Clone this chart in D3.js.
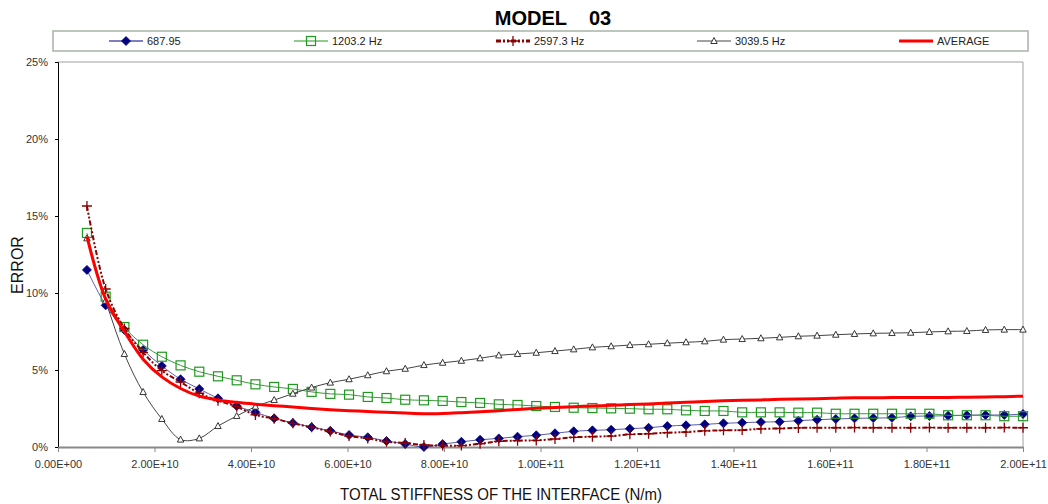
<!DOCTYPE html>
<html>
<head>
<meta charset="utf-8">
<script src="https://cdn.jsdelivr.net/npm/d3@7"></script>
<style>
  html, body { margin: 0; padding: 0; background: #fff; }
  svg { display: block; font-family: "Liberation Sans", Arial, sans-serif; }
</style>
</head>
<body>
<svg id="chart" width="1048" height="504"></svg>
<script>
// Interface stiffness (GN/m) at each computed point
const stiffnessGN = [
  6.00, 9.88, 13.76, 17.64, 21.52, 25.40, 29.28, 33.16, 37.04, 40.92,
  44.80, 48.68, 52.56, 56.44, 60.32, 64.20, 68.08, 71.96, 75.84, 79.72,
  83.60, 87.48, 91.36, 95.24, 99.12, 103.00, 106.88, 110.76, 114.64, 118.52,
  122.40, 126.28, 130.16, 134.04, 137.92, 141.80, 145.68, 149.56, 153.44, 157.32,
  161.20, 165.08, 168.96, 172.84, 176.72, 180.60, 184.48, 188.36, 192.24, 196.12,
  200.00
];

// Error (%) per mode frequency
const err687 = [
  11.5, 9.2, 7.6, 6.3, 5.26, 4.4, 3.77, 3.16, 2.66, 2.25,
  1.86, 1.56, 1.29, 1.05, 0.78, 0.63, 0.39, 0.19, 0.0, 0.19,
  0.34, 0.47, 0.56, 0.67, 0.76, 0.89, 1.02, 1.08, 1.12, 1.19,
  1.25, 1.36, 1.41, 1.47, 1.54, 1.58, 1.62, 1.64, 1.71, 1.77,
  1.82, 1.86, 1.88, 1.9, 1.99, 2.01, 2.03, 2.06, 2.08, 2.08,
  2.14
];
const err1203 = [
  13.9, 9.76, 7.79, 6.64, 5.86, 5.3, 4.89, 4.59, 4.33, 4.07,
  3.9, 3.77, 3.58, 3.45, 3.4, 3.25, 3.18, 3.07, 3.03, 2.99,
  2.92, 2.86, 2.77, 2.73, 2.66, 2.6, 2.55, 2.53, 2.51, 2.49,
  2.45, 2.45, 2.38, 2.34, 2.34, 2.25, 2.25, 2.25, 2.23, 2.23,
  2.16, 2.16, 2.16, 2.16, 2.16, 2.16, 2.06, 2.06, 2.06, 2.0,
  2.0
];
const err2597 = [
  15.65, 10.26, 7.7, 6.15, 4.96, 4.22, 3.49, 3.01, 2.62, 2.08,
  1.84, 1.54, 1.28, 1.0, 0.71, 0.56, 0.34, 0.26, 0.13, 0.09,
  0.09, 0.21, 0.37, 0.41, 0.43, 0.52, 0.63, 0.67, 0.71, 0.82,
  0.86, 0.93, 0.97, 1.05, 1.08, 1.1, 1.18, 1.2, 1.24, 1.25,
  1.25, 1.26, 1.25, 1.25, 1.25, 1.26, 1.25, 1.25, 1.25, 1.26,
  1.25
];
const err3039 = [
  13.55, 9.5, 6.04, 3.57, 1.82, 0.48, 0.56, 1.36, 2.01, 2.62,
  3.05, 3.46, 3.86, 4.18, 4.4, 4.66, 4.92, 5.08, 5.32, 5.47,
  5.6, 5.76, 5.95, 6.04, 6.12, 6.23, 6.34, 6.47, 6.54, 6.62,
  6.67, 6.74, 6.8, 6.86, 6.97, 7.01, 7.06, 7.12, 7.19, 7.23,
  7.29, 7.34, 7.38, 7.4, 7.42, 7.47, 7.51, 7.53, 7.6, 7.62,
  7.62
];
const errAverage = [
  13.66, 9.6, 7.5, 5.7, 4.55, 3.8, 3.3, 3.05, 2.9, 2.78,
  2.68, 2.6, 2.5, 2.42, 2.36, 2.31, 2.25, 2.2, 2.16, 2.18,
  2.23, 2.29, 2.36, 2.44, 2.51, 2.57, 2.62, 2.66, 2.71, 2.76,
  2.8, 2.85, 2.9, 2.96, 3.0, 3.03, 3.06, 3.1, 3.12, 3.14,
  3.17, 3.19, 3.2, 3.21, 3.22, 3.22, 3.22, 3.23, 3.24, 3.27,
  3.3
];

const seriesNames = ["687.95", "1203.2 Hz", "2597.3 Hz", "3039.5 Hz", "AVERAGE"];
const yTicks = [0, 5, 10, 15, 20, 25];
const xTicks = [0, 2e10, 4e10, 6e10, 8e10, 1e11, 1.2e11, 1.4e11, 1.6e11, 1.8e11, 2e11];

const svg = d3.select("#chart");
const plot = { left: 58, right: 1023, top: 62, bottom: 447 };

const x = d3.scaleLinear().domain([0, 2e11]).range([plot.left, plot.right]);
const y = d3.scaleLinear().domain([0, 25]).range([plot.bottom, plot.top]);

// Exponent format like 2.00E+10
function sciFmt(v) {
  const s = v.toExponential(2).toUpperCase();
  const [m, e] = s.split("E");
  const sign = e[0] === "-" ? "-" : "+";
  const digits = e.replace(/[+-]/, "").padStart(2, "0");
  return m + "E" + sign + digits;
}

// Title
svg.append("text")
  .attr("x", 553).attr("y", 25)
  .attr("text-anchor", "middle")
  .attr("font-size", 20).attr("font-weight", "bold")
  .style("white-space", "pre")
  .attr("fill", "#000")
  .text("MODEL    03");

// Plot frame (top & right)
svg.append("path")
  .attr("d", `M${plot.left},${plot.top}H${plot.right}V${plot.bottom}`)
  .attr("fill", "none").attr("stroke", "#a0a0a0").attr("stroke-width", 1);

// Y axis
const yAxis = svg.append("g").attr("transform", `translate(${plot.left},0)`)
  .call(d3.axisLeft(y).tickValues(yTicks).tickSize(3).tickFormat(d => d + "%"));
yAxis.select(".domain").attr("stroke", "#000");
yAxis.selectAll(".tick line").attr("stroke", "#000");
yAxis.selectAll("text").attr("font-size", 11).attr("fill", "#333")
  .attr("font-family", "'Liberation Sans', Arial, sans-serif").attr("x", -10);

// X axis
const xAxis = svg.append("g").attr("transform", `translate(0,${plot.bottom})`)
  .call(d3.axisBottom(x).tickValues(xTicks).tickSize(5).tickSizeOuter(0).tickFormat(sciFmt));
xAxis.select(".domain").attr("stroke", "#888").attr("stroke-width", 2);
xAxis.selectAll(".tick line").attr("stroke", "#888");
xAxis.selectAll("text").attr("font-size", 11).attr("fill", "#333")
  .attr("font-family", "'Liberation Sans', Arial, sans-serif").attr("y", 13);

// Axis titles
svg.append("text")
  .attr("x", 501).attr("y", 500)
  .attr("text-anchor", "middle")
  .attr("font-size", 16).attr("fill", "#111")
  .attr("textLength", 322).attr("lengthAdjust", "spacingAndGlyphs")
  .text("TOTAL STIFFNESS OF THE INTERFACE (N/m)");
svg.append("text")
  .attr("transform", "translate(23,265) rotate(-90)")
  .attr("text-anchor", "middle")
  .attr("font-size", 16).attr("fill", "#111")
  .text("ERROR");

// Marker symbols
const markers = {
  diamond: (g, c) => g.append("path").attr("d", "M0,-4.5L4.5,0L0,4.5L-4.5,0Z")
    .attr("fill", c.marker).attr("stroke", c.marker).attr("stroke-width", 0.8),
  square: (g, c) => g.append("rect").attr("x", -4.5).attr("y", -4.5).attr("width", 9).attr("height", 9)
    .attr("fill", "none").attr("stroke", c.marker).attr("stroke-width", 1.2),
  plus: (g, c) => g.append("path").attr("d", "M-5,0H5M0,-5V5")
    .attr("stroke", c.marker).attr("stroke-width", 1.3),
  triangle: (g, c) => g.append("path").attr("d", "M0,-3.5L3.2,2.5L-3.2,2.5Z")
    .attr("fill", "#fff").attr("stroke", c.marker).attr("stroke-width", 0.9),
  none: () => {}
};

const series = [
  { name: seriesNames[0], values: err687, line: "#5c5cae", width: 1, dash: null, marker: "#000080", symbol: "diamond" },
  { name: seriesNames[1], values: err1203, line: "#3a9a3a", width: 1, dash: null, marker: "#1f9a1f", symbol: "square" },
  { name: seriesNames[2], values: err2597, line: "#8b0000", width: 2, dash: "5,2,2,2,2,2", marker: "#8b0000", symbol: "plus" },
  { name: seriesNames[3], values: err3039, line: "#444", width: 1, dash: null, marker: "#222", symbol: "triangle" },
  { name: seriesNames[4], values: errAverage, line: "#ff0000", width: 3, dash: null, marker: null, symbol: "none" }
];

const lineGen = d3.line()
  .x((d, i) => x(stiffnessGN[i] * 1e9))
  .y(d => y(d))
  .curve(d3.curveCatmullRom.alpha(0.5));

series.forEach(s => {
  const g = svg.append("g");
  g.append("path")
    .attr("d", lineGen(s.values))
    .attr("fill", "none")
    .attr("stroke", s.line)
    .attr("stroke-width", s.width)
    .attr("stroke-dasharray", s.dash)
    .attr("stroke-linejoin", "round");
  if (s.symbol !== "none") {
    s.values.forEach((v, i) => {
      const m = g.append("g").attr("transform", `translate(${x(stiffnessGN[i] * 1e9)},${y(v)})`);
      markers[s.symbol](m, s);
    });
  }
});

// Legend
const legend = svg.append("g");
legend.append("rect")
  .attr("x", 53).attr("y", 31).attr("width", 975).attr("height", 20)
  .attr("fill", "#fff").attr("stroke", "#a8b4a8").attr("stroke-width", 1.5);
const legendX = [109, 294, 496, 697, 899];
series.forEach((s, k) => {
  const lx = legendX[k];
  const lg = legend.append("g");
  lg.append("line")
    .attr("x1", lx).attr("x2", lx + 34).attr("y1", 41).attr("y2", 41)
    .attr("stroke", k === 0 ? "#000080" : (k === 1 ? "#1f9a1f" : s.line))
    .attr("stroke-width", k === 2 ? 3 : (k === 4 ? 3 : 1))
    .attr("stroke-dasharray", s.dash);
  if (s.symbol !== "none") {
    const m = lg.append("g").attr("transform", `translate(${lx + 17},41)`);
    markers[s.symbol](m, s);
  }
  lg.append("text")
    .attr("x", lx + 38).attr("y", 45)
    .attr("font-size", 11).attr("fill", "#222")
    .text(s.name);
});
</script>
</body>
</html>
